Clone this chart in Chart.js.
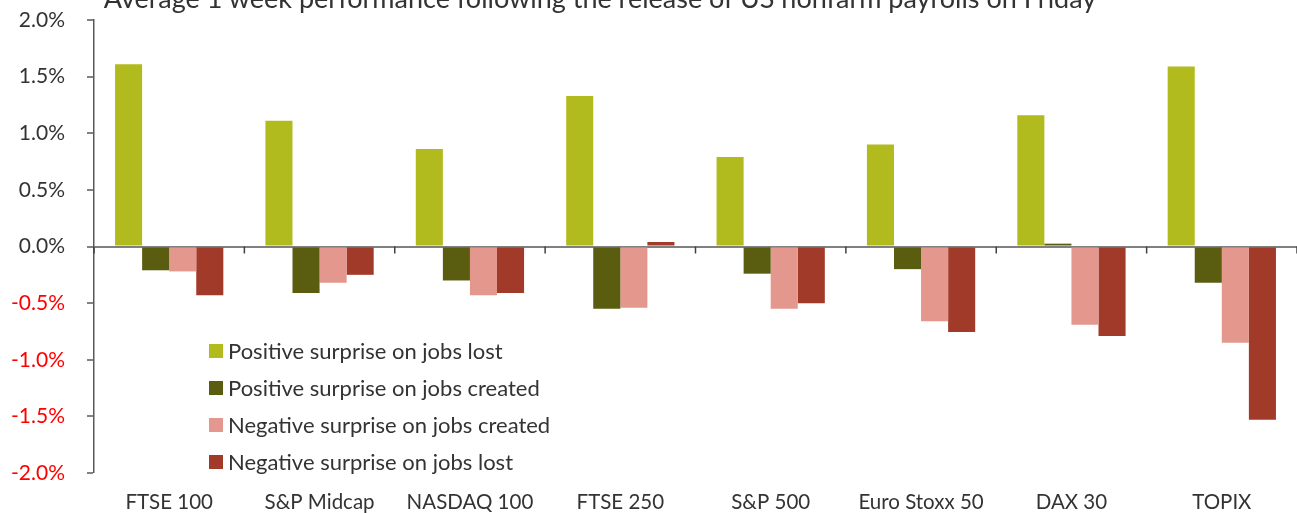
<!DOCTYPE html>
<html>
<head>
<meta charset="utf-8">
<script src="https://cdn.jsdelivr.net/npm/chart.js@4/dist/chart.umd.min.js"></script>
<style>
  html, body { margin: 0; padding: 0; background: #fff; overflow: hidden; }
  #wrap { position: relative; width: 1297px; height: 513px; }
  #title {
    position: absolute; left: 0; width: 1200px; top: -17px;
    text-align: center; font: 27px Lato, sans-serif; color: #333; line-height: 30px;
    white-space: nowrap;
  }
  #legend { position: absolute; left: 209px; top: 332px; font: 22px Lato, sans-serif; color: #333; }
  .row { height: 37px; display: flex; align-items: center; }
  .row span.box { width: 14px; height: 14px; margin-right: 5px; }
</style>
</head>
<body>
<div id="wrap">
  <canvas id="chart" width="1297" height="513"></canvas>
  <div id="title">Average 1 week performance following the release of US nonfarm payrolls on Friday</div>
  <div id="legend"></div>
</div>
<script>
const categories = ['FTSE 100', 'S&P Midcap', 'NASDAQ 100', 'FTSE 250', 'S&P 500', 'Euro Stoxx 50', 'DAX 30', 'TOPIX'];
const seriesNames = [
  'Positive surprise on jobs lost',
  'Positive surprise on jobs created',
  'Negative surprise on jobs created',
  'Negative surprise on jobs lost'
];
const posJobsLost = [1.61, 1.11, 0.86, 1.33, 0.79, 0.90, 1.16, 1.59];
const posJobsCreated = [-0.21, -0.41, -0.30, -0.55, -0.24, -0.20, 0.025, -0.32];
const negJobsCreated = [-0.22, -0.32, -0.43, -0.54, -0.55, -0.66, -0.69, -0.85];
const negJobsLost = [-0.43, -0.25, -0.41, 0.04, -0.50, -0.755, -0.79, -1.53];
const yTicks = [-2.0, -1.5, -1.0, -0.5, 0.0, 0.5, 1.0, 1.5, 2.0];

const colors = ['#B2BB1E', '#5A5C0F', '#E3978D', '#A13A29'];
const seriesValues = [posJobsLost, posJobsCreated, negJobsCreated, negJobsLost];

// legend (html, sits inside the plot like the original)
const legendEl = document.getElementById('legend');
seriesNames.forEach((name, i) => {
  const row = document.createElement('div');
  row.className = 'row';
  row.innerHTML = '<span class="box" style="background:' + colors[i] + '"></span><span>' + name + '</span>';
  legendEl.appendChild(row);
});

// small category ticks hanging under the zero line
const zeroTicks = {
  id: 'zeroTicks',
  afterDatasetsDraw(chart) {
    const x = chart.scales.x, y = chart.scales.y;
    const y0 = y.getPixelForValue(0);
    const half = (x.getPixelForValue(1) - x.getPixelForValue(0)) / 2;
    const c = chart.ctx;
    c.save();
    c.strokeStyle = '#404040';
    c.lineWidth = 1.5;
    for (let i = 0; i <= categories.length; i++) {
      const px = x.getPixelForValue(0) - half + i * half * 2;
      c.beginPath();
      c.moveTo(px, y0);
      c.lineTo(px, y0 + 7);
      c.stroke();
    }
    c.restore();
  }
};

new Chart(document.getElementById('chart'), {
  type: 'bar',
  data: {
    labels: categories,
    datasets: seriesValues.map((vals, i) => ({
      label: seriesNames[i],
      data: vals,
      backgroundColor: colors[i],
      barPercentage: 1.0,
      categoryPercentage: 0.72
    }))
  },
  options: {
    responsive: false,
    animation: false,
    layout: { padding: { top: 20, left: 0, right: 0, bottom: 0 } },
    plugins: {
      legend: { display: false },
      tooltip: { enabled: false }
    },
    scales: {
      x: {
        offset: true,
        grid: { display: false },
        border: { display: false },
        afterFit: (axis) => { axis.height = 40; axis.paddingLeft = 0; axis.paddingRight = 0; },
        ticks: {
          padding: 9,
          color: '#333',
          font: { family: 'Lato', size: 20.5 }
        }
      },
      y: {
        min: -2,
        max: 2,
        afterBuildTicks: (axis) => { axis.ticks = yTicks.map(v => ({ value: v })); },
        afterFit: (axis) => { axis.width = 94; axis.paddingTop = 0; axis.paddingBottom = 0; },
        border: { display: true, color: '#595959', width: 1.5 },
        grid: {
          drawOnChartArea: true,
          color: (ctx) => (ctx.tick && ctx.tick.value === 0 ? '#808080' : 'rgba(0,0,0,0)'),
          lineWidth: (ctx) => (ctx.tick && ctx.tick.value === 0 ? 2 : 0),
          tickColor: '#595959',
          tickWidth: 1.5,
          tickLength: 7
        },
        ticks: {
          padding: 22,
          font: { family: 'Lato', size: 21 },
          color: (ctx) => (ctx.tick.value < 0 ? '#FF0000' : '#333'),
          callback: (v) => v.toFixed(1) + '%'
        }
      }
    }
  },
  plugins: [zeroTicks]
});
</script>
</body>
</html>
